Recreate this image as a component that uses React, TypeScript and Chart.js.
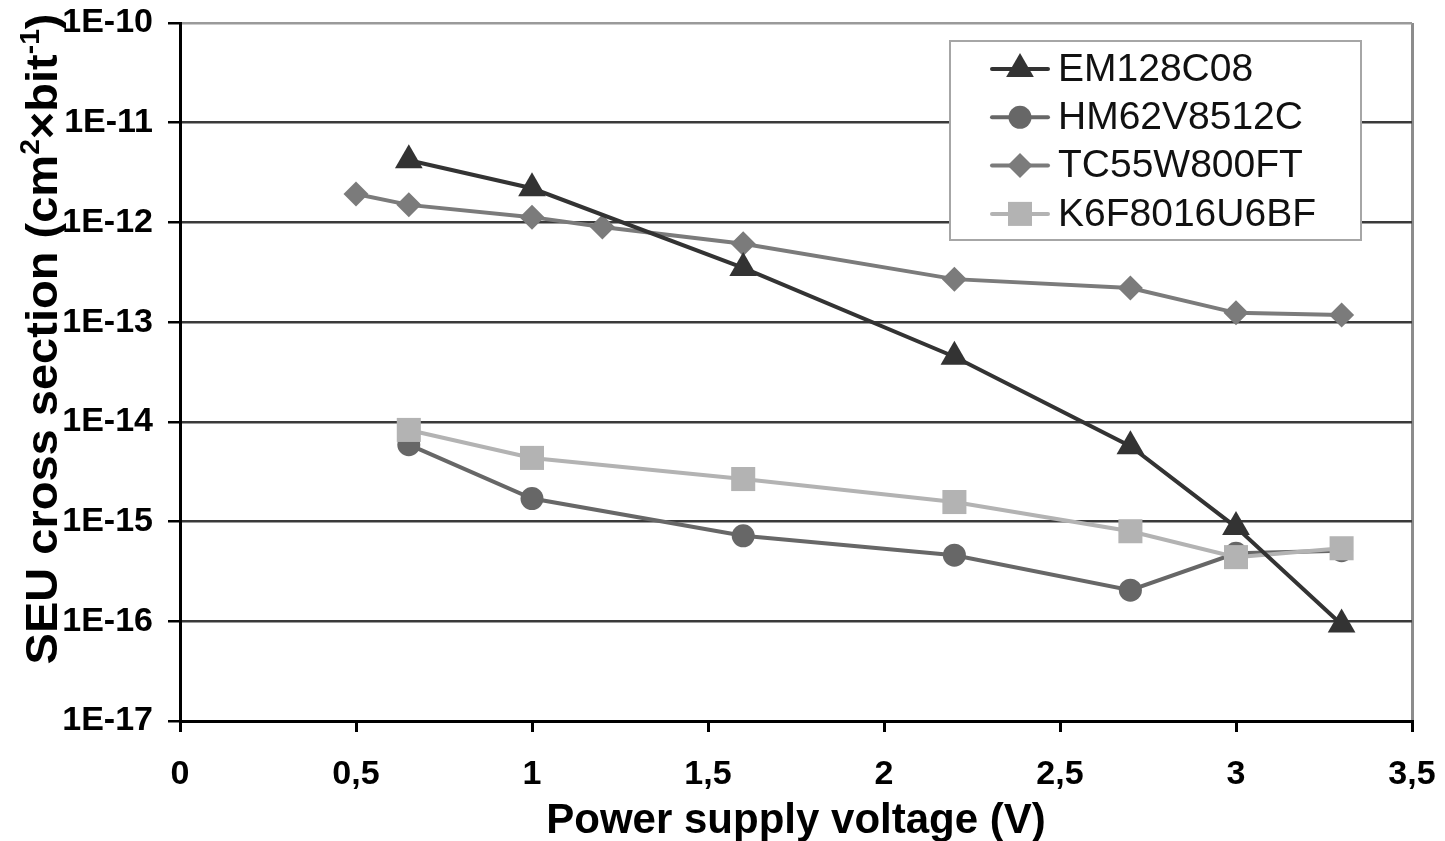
import React, { useEffect, useRef } from 'react';
import { Chart, registerables } from 'chart.js';

Chart.register(...registerables);

// Supply voltages (V) at which each memory was measured
const voltages = [0.65, 1, 1.6, 2.2, 2.7, 3, 3.3];
const tcVoltages = [0.5, 0.65, 1, 1.2, 1.6, 2.2, 2.7, 3, 3.3];

// SEU cross sections (cm^2 per bit)
const em128c08 = [4.2e-12, 2.2e-12, 3.5e-13, 4.5e-14, 5.7e-15, 8.8e-16, 9.3e-17];
const hm62v8512c = [5.9e-15, 1.7e-15, 7.2e-16, 4.6e-16, 2.05e-16, 4.8e-16, 5.1e-16];
const tc55w800ft = [1.93e-12, 1.5e-12, 1.13e-12, 9.0e-13, 6.1e-13, 2.7e-13, 2.2e-13, 1.24e-13, 1.18e-13];
const k6f8016u6bf = [8.3e-15, 4.35e-15, 2.67e-15, 1.57e-15, 8.0e-16, 4.4e-16, 5.4e-16];

const seriesNames = ['EM128C08', 'HM62V8512C', 'TC55W800FT', 'K6F8016U6BF'];

// Decade ticks of the log axis (exponents) and linear voltage ticks
const yExponents = [-17, -16, -15, -14, -13, -12, -11, -10];
const xTickValues = [0, 0.5, 1, 1.5, 2, 2.5, 3, 3.5];

const xTitle = 'Power supply voltage (V)';
const yTitleParts: { text: string; sup?: boolean }[] = [
  { text: 'SEU cross section (cm' },
  { text: '2', sup: true },
  { text: '×bit' },
  { text: '-1', sup: true },
  { text: ')' },
];

const FONT = "'Liberation Sans', Arial, sans-serif";

const toPoints = (xs: number[], ys: number[]) => xs.map((x, i) => ({ x, y: ys[i] }));

function drawMarker(ctx: CanvasRenderingContext2D, style: string, x: number, y: number, r: number) {
  ctx.beginPath();
  if (style === 'triangle') {
    const h = r * 1.5;
    const w = r * Math.sqrt(3);
    ctx.moveTo(x, y - r);
    ctx.lineTo(x + w / 2, y - r + h);
    ctx.lineTo(x - w / 2, y - r + h);
    ctx.closePath();
  } else if (style === 'circle') {
    ctx.arc(x, y, r, 0, Math.PI * 2);
  } else if (style === 'rectRot') {
    ctx.moveTo(x, y - r);
    ctx.lineTo(x + r, y);
    ctx.lineTo(x, y + r);
    ctx.lineTo(x - r, y);
    ctx.closePath();
  } else {
    const s = r * Math.SQRT1_2;
    ctx.rect(x - s, y - s, 2 * s, 2 * s);
  }
  ctx.fill();
}

// Legend box drawn inside the plot area, top right
const legendBox = {
  id: 'legendBox',
  afterDraw(chart: any) {
    const ctx: CanvasRenderingContext2D = chart.ctx;
    const left = 950;
    const top = 41;
    const w = 411;
    const h = 199;
    ctx.save();
    ctx.fillStyle = '#ffffff';
    ctx.fillRect(left, top, w, h);
    ctx.strokeStyle = '#a6a6a6';
    ctx.lineWidth = 2;
    ctx.strokeRect(left, top, w, h);
    chart.data.datasets.forEach((ds: any, i: number) => {
      const cy = 69 + i * 48.3;
      ctx.strokeStyle = ds.borderColor;
      ctx.lineWidth = 4;
      ctx.lineCap = 'round';
      ctx.beginPath();
      ctx.moveTo(992, cy);
      ctx.lineTo(1048, cy);
      ctx.stroke();
      ctx.fillStyle = ds.pointBackgroundColor;
      drawMarker(ctx, ds.pointStyle, 1020, cy, ds.pointRadius);
      ctx.fillStyle = '#111111';
      ctx.font = `39px ${FONT}`;
      ctx.textBaseline = 'middle';
      ctx.textAlign = 'left';
      ctx.fillText(ds.label, 1058, cy + 1);
    });
    ctx.restore();
  },
};

// Rotated y-axis title with superscripts
const yTitle = {
  id: 'yTitle',
  afterDraw(chart: any) {
    const ctx: CanvasRenderingContext2D = chart.ctx;
    const big = `bold 45px ${FONT}`;
    const small = `bold 27px ${FONT}`;
    const stretch = 1.045;
    ctx.save();
    let total = 0;
    const widths = yTitleParts.map((p) => {
      ctx.font = p.sup ? small : big;
      const wd = ctx.measureText(p.text).width;
      total += wd;
      return wd;
    });
    ctx.translate(40, 339);
    ctx.rotate(-Math.PI / 2);
    ctx.scale(stretch, 1);
    ctx.fillStyle = '#000000';
    ctx.textBaseline = 'alphabetic';
    ctx.textAlign = 'left';
    let x = -total / 2;
    yTitleParts.forEach((p, i) => {
      ctx.font = p.sup ? small : big;
      ctx.fillText(p.text, x, p.sup ? -1 : 17);
      x += widths[i];
    });
    ctx.restore();
  },
};

export default function App() {
  const canvasRef = useRef<HTMLCanvasElement | null>(null);

  useEffect(() => {
    document.body.style.margin = '0';
    const canvas = canvasRef.current;
    if (!canvas) return;

    const styles = [
      { color: '#333333', point: 'triangle', radius: 16, order: 0 },
      { color: '#676767', point: 'circle', radius: 11.5, order: 2 },
      { color: '#7b7b7b', point: 'rectRot', radius: 12.5, order: 3 },
      { color: '#b3b3b3', point: 'rect', radius: 17, order: 1 },
    ];
    const seriesData = [
      toPoints(voltages, em128c08),
      toPoints(voltages, hm62v8512c),
      toPoints(tcVoltages, tc55w800ft),
      toPoints(voltages, k6f8016u6bf),
    ];

    const chart = new Chart(canvas, {
      type: 'line',
      data: {
        datasets: seriesNames.map((name, i) => ({
          label: name,
          data: seriesData[i],
          borderColor: styles[i].color,
          backgroundColor: styles[i].color,
          pointBackgroundColor: styles[i].color,
          pointBorderColor: styles[i].color,
          pointBorderWidth: 0,
          pointStyle: styles[i].point,
          pointRadius: styles[i].radius,
          borderWidth: 4,
          tension: 0,
          order: styles[i].order,
        })),
      },
      options: {
        responsive: false,
        animation: false,
        layout: { padding: { left: 0, right: 33, top: 23, bottom: 0 } },
        plugins: {
          legend: { display: false },
          tooltip: { enabled: false },
        },
        scales: {
          x: {
            type: 'linear',
            min: 0,
            max: 3.5,
            afterBuildTicks: (s: any) => {
              s.ticks = xTickValues.map((v) => ({ value: v }));
            },
            afterFit: (s: any) => {
              s.height = 120;
              s.paddingLeft = 0;
              s.paddingRight = 0;
            },
            ticks: {
              color: '#000000',
              font: { family: FONT, size: 34, weight: 'bold' },
              padding: 22,
              maxRotation: 0,
              callback: (v: any) => String(v).replace('.', ','),
            },
            grid: {
              color: (c: any) => (c.tick && c.tick.value === 3.5 ? '#8c8c8c' : 'rgba(0,0,0,0)'),
              lineWidth: 3,
              tickColor: '#000000',
              tickLength: 11,
              tickWidth: 3,
            },
            border: { color: '#000000', width: 3 },
            title: {
              display: true,
              text: xTitle,
              color: '#000000',
              font: { family: FONT, size: 42, weight: 'bold' },
              padding: { top: 0, bottom: -6 },
            },
          },
          y: {
            type: 'logarithmic',
            min: 1e-17,
            max: 1e-10,
            afterBuildTicks: (s: any) => {
              s.ticks = yExponents.map((e) => ({ value: Math.pow(10, e) }));
            },
            afterFit: (s: any) => {
              s.width = 180;
              s.paddingTop = 0;
              s.paddingBottom = 0;
            },
            ticks: {
              color: '#000000',
              font: { family: FONT, size: 34, weight: 'bold' },
              padding: 15,
              callback: (v: any) => '1E' + Math.round(Math.log10(v)),
            },
            grid: {
              color: (c: any) =>
                c.tick && Math.round(Math.log10(c.tick.value)) === -10 ? '#9a9a9a' : '#3a3a3a',
              lineWidth: 2.5,
              tickColor: '#000000',
              tickLength: 12,
              tickWidth: 2.5,
            },
            border: { color: '#000000', width: 3 },
          },
        },
      },
      plugins: [legendBox, yTitle],
    });

    return () => chart.destroy();
  }, []);

  return (
    <div style={{ width: 1445, height: 841, background: '#ffffff' }}>
      <canvas ref={canvasRef} width={1445} height={841} style={{ display: 'block' }} />
    </div>
  );
}
